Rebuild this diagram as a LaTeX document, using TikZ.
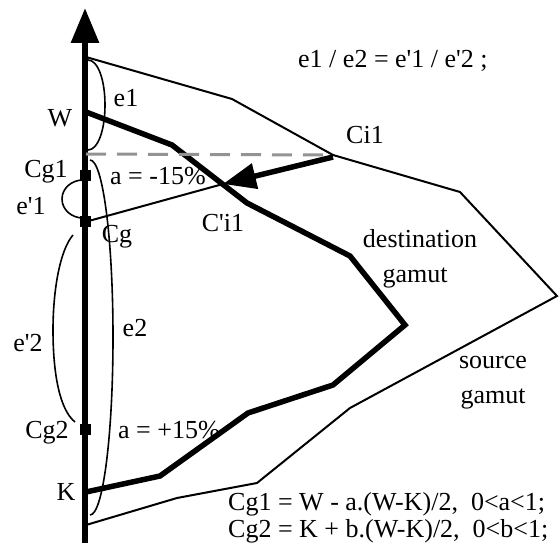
\documentclass[tikz,border=0pt]{standalone}
\usepackage{fontspec}
\setmainfont{Liberation Serif}[Ligatures=TeXOff]
\usetikzlibrary{arrows.meta}
\begin{document}
\begin{tikzpicture}[x=1pt,y=-1pt,
  lbl/.style={inner sep=0pt, anchor=base, font=\fontsize{26}{29}\selectfont},
  lblw/.style={lbl, anchor=base west},
  thinline/.style={line width=2pt, line join=miter},
  thickline/.style={line width=5.5pt, line join=miter},
  brace/.style={line width=1.6pt},
  sqmark/.style={fill=black, rectangle, minimum size=11pt, inner sep=0pt},
  dashline/.style={line width=3pt, gray!85, dash pattern=on 20pt off 11pt}
]
\useasboundingbox (0,0) rectangle (560,548);

% axis
\coordinate (axbot) at (85,543);
\coordinate (axtop) at (85,8);
\draw[line width=6pt, -{Triangle[length=35pt,width=27pt]}] (axbot) -- (axtop);

% source gamut
\coordinate (s1) at (86,57);
\coordinate (s2) at (232,99);
\coordinate (Ci1) at (333,155);
\coordinate (s4) at (460,192);
\coordinate (s5) at (557,296);
\coordinate (s6) at (350,408);
\coordinate (s7) at (257,483);
\coordinate (s8) at (177,498);
\coordinate (s9) at (86,525);
\draw[thinline] (s1) -- (s2) -- (Ci1) -- (s4) -- (s5) -- (s6) -- (s7) -- (s8) -- (s9);

% destination gamut
\coordinate (W) at (86,112);
\coordinate (d2) at (172,145);
\coordinate (d3) at (247,203);
\coordinate (d4) at (350,256);
\coordinate (d5) at (405,325);
\coordinate (d6) at (333,385);
\coordinate (d7) at (248,413);
\coordinate (d8) at (160,476);
\coordinate (K) at (86,492);
\draw[thickline] (W) -- (d2) -- (d3) -- (d4) -- (d5) -- (d6) -- (d7) -- (d8) -- (K);

% dashed projection
\coordinate (dl) at (86,154);
\draw[dashline] (dl) -- (Ci1);

% markers
\node[sqmark] (Cg1m) at (85,176) {};
\node[sqmark] (Cgm) at (85,222) {};
\node[sqmark] (Cg2m) at (85,429) {};

% mapping line and arrow
\coordinate (Cpi1) at (223,184);
\draw[thinline] (Cgm.center) -- (Cpi1);
\coordinate (arrstart) at (333,157);
\draw[line width=5.5pt, -{Triangle[length=33pt,width=25pt]}] (arrstart) -- (Cpi1);

% brackets
\draw[brace] (88,60) .. controls (98,60) and (105,80) .. (105,105) .. controls (105,130) and (98,150) .. (88,150);
\draw[brace] (90,160) .. controls (103,160) and (113,240) .. (113,337) .. controls (113,435) and (103,515) .. (90,515);
\draw[brace] (83,180) .. controls (72,180) and (62,188) .. (62,199) .. controls (62,210) and (72,218) .. (83,218);
\draw[brace] (73,235) .. controls (60,250) and (53,290) .. (53,330) .. controls (53,375) and (60,410) .. (75,422);

% labels
\node[lblw] (eq) at (298,68) {e1 / e2 = e'1 / e'2 ;};
\node[lbl] (Wl) at (60,127) {W};
\node[lbl] (e1l) at (126,107) {e1};
\node[lbl] (Ci1l) at (365,144) {Ci1};
\node[lbl] (Cg1l) at (46,178) {Cg1};
\node[lblw] (am) at (110,185) {a = -15\%};
\node[lbl] (ep1l) at (31,215) {e'1};
\node[lbl] (Cgl) at (117,243) {Cg};
\node[lbl] (Cpi1l) at (223,232) {C'i1};
\node[lbl] (dest) at (420,248) {destination};
\node[lbl] (destg) at (415,283) {gamut};
\node[lbl] (e2l) at (135,337) {e2};
\node[lbl] (ep2l) at (28,352) {e'2};
\node[lbl] (Cg2l) at (47,438) {Cg2};
\node[lblw] (ap) at (118,438) {a = +15\%};
\node[lbl] (Kl) at (66,500) {K};
\node[lbl] (src) at (493,368) {source};
\node[lbl] (srcg) at (493,403) {gamut};
\node[lblw] (f1) at (228,510) {Cg1 = W - a.(W-K)/2,\ \ 0<a<1;};
\node[lblw] (f2) at (228,537) {Cg2 = K + b.(W-K)/2,\ \ 0<b<1;};
\end{tikzpicture}
\end{document}
